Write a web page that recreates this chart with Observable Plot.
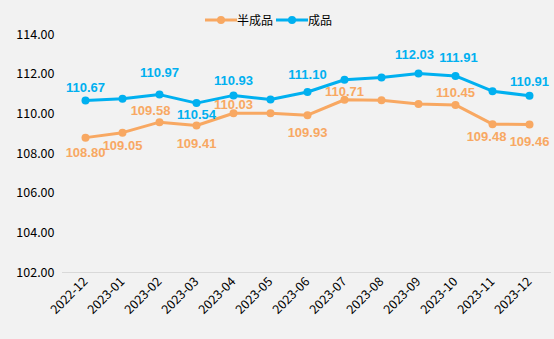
<!DOCTYPE html>
<html>
<head>
<meta charset="utf-8">
<script src="https://cdn.jsdelivr.net/npm/d3@7"></script>
<script src="https://cdn.jsdelivr.net/npm/@observablehq/plot@0.6"></script>
<style>
  html, body { margin: 0; padding: 0; background: #F2F2F2; }
  #wrap { position: relative; width: 554px; height: 339px; background: #F2F2F2; font-family: "Noto Sans CJK SC", "Microsoft YaHei", sans-serif; }
  #legend { position: absolute; top: 11px; left: 205px; display: flex; align-items: center; font-size: 12px; color: #000; }
  #legend .item { display: flex; align-items: center; margin-right: 3px; }
  #legend svg { display: block; }
</style>
</head>
<body>
<div id="wrap">
  <div id="chart"></div>
  <div id="legend"></div>
</div>
<script>
const months = ["2022-12","2023-01","2023-02","2023-03","2023-04","2023-05","2023-06","2023-07","2023-08","2023-09","2023-10","2023-11","2023-12"];
const seriesNames = ["半成品", "成品"];
const seriesColors = ["#F8A862", "#00B0F0"];
const semiValues = [108.80, 109.05, 109.58, 109.41, 110.03, 110.03, 109.93, 110.71, 110.69, 110.50, 110.45, 109.48, 109.46];
const finishedValues = [110.67, 110.76, 110.97, 110.54, 110.93, 110.72, 111.10, 111.72, 111.83, 112.03, 111.91, 111.14, 110.91];
// which points carry a data label (true = labelled)
const semiLabelled = [true, true, true, true, true, false, true, true, false, false, true, true, true];
const finishedLabelled = [true, false, true, true, true, false, true, false, false, true, true, false, true];
const yTicks = [102, 104, 106, 108, 110, 112, 114];

// label placement (layout only), [dx, dy] in pixels relative to the point, per series and month index
const labelOffsets = {
  "半成品": {0: [0, 15], 1: [0, 13], 2: [-9, -11], 3: [0, 18], 4: [0, -8], 6: [0, 18], 7: [0, -8], 10: [0, -12], 11: [-6, 13], 12: [0, 17]},
  "成品": {0: [0, -13], 2: [0, -22], 3: [0, 12], 4: [0, -15], 6: [0, -17], 9: [-4, -19], 10: [3, -18], 12: [0, -14]}
};

const data = months.flatMap((m, i) => [
  {month: m, i, series: seriesNames[0], value: semiValues[i], labelled: semiLabelled[i]},
  {month: m, i, series: seriesNames[1], value: finishedValues[i], labelled: finishedLabelled[i]}
]);

const font = "'Noto Sans CJK SC', 'Microsoft YaHei', sans-serif";
const labelFont = "'Liberation Sans', Arial, sans-serif";

const labelMarks = data.filter(d => d.labelled).map(d => {
  const [dx, dy] = labelOffsets[d.series][d.i];
  return Plot.text([d], {x: "month", y: "value", text: v => v.value.toFixed(2), fill: "series", dx, dy, fontSize: 13, fontWeight: "bold", fontFamily: labelFont});
});

const chart = Plot.plot({
  width: 554,
  height: 339,
  marginTop: 34,
  marginBottom: 67,
  marginLeft: 62,
  marginRight: 3,
  style: {background: "#F2F2F2", fontFamily: font, color: "#000", overflow: "visible"},
  x: {type: "point", domain: months, padding: 0.5, label: null},
  y: {domain: [102, 114], label: null},
  color: {domain: seriesNames, range: seriesColors},
  marks: [
    Plot.axisY({ticks: yTicks, tickFormat: d => d.toFixed(2), tickSize: 0, tickPadding: 8, fontSize: 12.5, label: null}),
    Plot.axisX({tickRotate: -45, tickSize: 0, tickPadding: 7, fontSize: 12.5, label: null}),
    Plot.ruleY([102], {stroke: "#D9D9D9", strokeWidth: 1}),
    Plot.line(data, {x: "month", y: "value", z: "series", stroke: "series", strokeWidth: 3, curve: "linear"}),
    Plot.dot(data, {x: "month", y: "value", fill: "series", r: 4}),
    ...labelMarks
  ]
});
document.getElementById("chart").appendChild(chart);

const legend = document.getElementById("legend");
seriesNames.forEach((name, i) => {
  const item = document.createElement("div");
  item.className = "item";
  item.innerHTML = `<svg width="32" height="12"><line x1="0" y1="6" x2="32" y2="6" stroke="${seriesColors[i]}" stroke-width="3"/><circle cx="16" cy="6" r="4" fill="${seriesColors[i]}"/></svg><span>${name}</span>`;
  legend.appendChild(item);
});
</script>
</body>
</html>
